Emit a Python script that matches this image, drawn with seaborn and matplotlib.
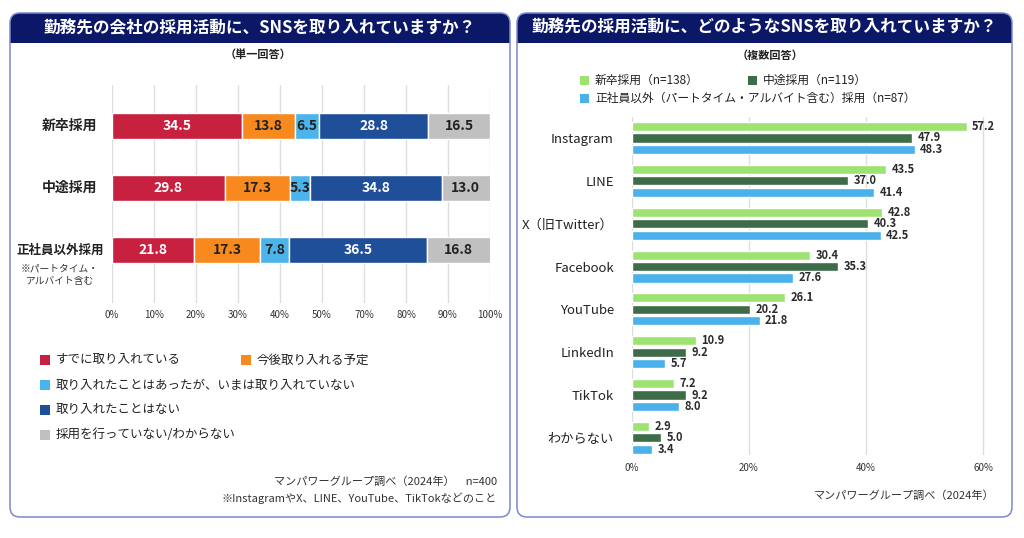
import numpy as np
import pandas as pd
import seaborn as sns
import matplotlib.pyplot as plt
from matplotlib.patches import FancyBboxPatch, Rectangle
from matplotlib.transforms import blended_transform_factory

# left chart: single answer, stacked 100%
stages = ['新卒採用', '中途採用', '正社員以外採用']
answers = ['すでに取り入れている', '今後取り入れる予定',
           '取り入れたことはあったが、いまは取り入れていない',
           '取り入れたことはない', '採用を行っていない/わからない']
already = [34.5, 29.8, 21.8]
planned = [13.8, 17.3, 17.3]
stopped = [6.5, 5.3, 7.8]
never = [28.8, 34.8, 36.5]
unknown = [16.5, 13.0, 16.8]
pct_ticks = ['0%', '10%', '20%', '30%', '40%', '50%', '70%', '80%', '90%', '100%']

# right chart: multiple answers
platforms = ['Instagram', 'LINE', 'X（旧Twitter）', 'Facebook', 'YouTube',
             'LinkedIn', 'TikTok', 'わからない']
groups = ['新卒採用（n=138）', '中途採用（n=119）',
          '正社員以外（パートタイム・アルバイト含む）採用（n=87）']
new_grad = [57.2, 43.5, 42.8, 30.4, 26.1, 10.9, 7.2, 2.9]
mid_career = [47.9, 37.0, 40.3, 35.3, 20.2, 9.2, 9.2, 5.0]
non_regular = [48.3, 41.4, 42.5, 27.6, 21.8, 5.7, 8.0, 3.4]
sns_ticks = ['0%', '20%', '40%', '60%']

left_colors = ['#c8203f', '#f7891e', '#4bb4ea', '#1e4f98', '#c0c0c0']
left_text = ['white', '#222222', '#222222', 'white', '#222222']
right_colors = ['#9ee272', '#3e6b48', '#4ab1ea']
NAVY = '#0b1868'
BORDER = '#7d88c9'

sns.set_style('white')
plt.rcParams['font.family'] = ['Noto Sans CJK JP', 'DejaVu Sans']

W, H = 1024, 538
fig = plt.figure(figsize=(W / 100, H / 100), dpi=100)
fig.patch.set_facecolor('white')

# background axes in pixel units for panels and free text
bg = fig.add_axes([0, 0, 1, 1], zorder=-1)
bg.set_xlim(0, W)
bg.set_ylim(H, 0)
bg.axis('off')


def panel(x0, x1, y0, y1, title):
    bg.add_patch(FancyBboxPatch((x0, y0), x1 - x0, y1 - y0,
                                boxstyle='round,pad=0,rounding_size=10',
                                fc='white', ec='none'))
    bg.add_patch(FancyBboxPatch((x0, y0), x1 - x0, 30,
                                boxstyle='round,pad=0,rounding_size=10',
                                fc=NAVY, ec='none'))
    bg.add_patch(Rectangle((x0, y0 + 15), x1 - x0, 15, fc=NAVY, ec='none'))
    bg.add_patch(FancyBboxPatch((x0, y0), x1 - x0, y1 - y0,
                                boxstyle='round,pad=0,rounding_size=10',
                                fc='none', ec=BORDER, lw=1.1))
    bg.text((x0 + x1) / 2, y0 + 15, title, color='white', fontsize=12,
            fontweight='bold', ha='center', va='center')


def legend_item(x, y, color, label, size=10, fontsize=9):
    bg.add_patch(Rectangle((x, y - size / 2), size, size, fc=color, ec='none'))
    bg.text(x + size + 6, y, label, fontsize=fontsize, color='#222222',
            ha='left', va='center')


panel(10, 510, 13, 517, '勤務先の会社の採用活動に、SNSを取り入れていますか？')
panel(517, 1012, 13, 517, '勤務先の採用活動に、どのようなSNSを取り入れていますか？')

# ---------------- left chart ----------------
ax = fig.add_axes([112 / W, 1 - 303 / H, (490 - 112) / W, (303 - 85) / H])
ax.set_facecolor('none')
series = [already, planned, stopped, never, unknown]
lefts = np.zeros(len(stages))
for vals, col, tcol in zip(series, left_colors, left_text):
    sns.barplot(x=vals, y=stages, left=lefts, color=col, saturation=1,
                width=0.42, edgecolor='white', linewidth=1, ax=ax)
    ax.bar_label(ax.containers[-1], labels=[f'{v:.1f}' for v in vals],
                 label_type='center', color=tcol, fontsize=10, fontweight='bold')
    lefts = lefts + np.array(vals)

ax.set_xlim(0, 100)
ax.set_ylim(2.85, -0.66)
ax.set_xticks(np.linspace(0, 100, 10), pct_ticks)
ax.tick_params(axis='x', length=0, pad=5, labelsize=7, labelcolor='#333333')
ax.set_yticks(range(len(stages)), [''] * len(stages))
ax.tick_params(axis='y', length=0)
ax.grid(axis='x', color='#dddddd', lw=1)
ax.set_axisbelow(True)
ax.set_xlabel('')
ax.set_ylabel('')
for s in ax.spines.values():
    s.set_visible(False)

trans = blended_transform_factory(ax.transAxes, ax.transData)
for i, st in enumerate(stages):
    if i < 2:
        ax.text(-15 / 378, i, st, transform=trans, ha='right', va='center',
                fontsize=10, fontweight='bold', color='#222222')
    else:
        ax.text(-8 / 378, i, st, transform=trans, ha='right', va='center',
                fontsize=9, fontweight='bold', color='#222222')
ax.text(-52 / 378, 2.22, '※パートタイム・\nアルバイト含む', transform=trans,
        ha='center', va='top', fontsize=7, color='#333333', linespacing=1.3)

bg.text(258, 54, '（単一回答）', fontsize=8, fontweight='bold', ha='center',
        va='center', color='#222222')
legend_item(40, 360, left_colors[0], answers[0])
legend_item(241, 360, left_colors[1], answers[1])
for k, yy in zip(range(2, 5), [385, 410, 435]):
    legend_item(40, yy, left_colors[k], answers[k])

bg.text(497, 482, 'マンパワーグループ調べ（2024年）　n=400', fontsize=8,
        ha='right', va='center', color='#333333')
bg.text(497, 498, '※InstagramやX、LINE、YouTube、TikTokなどのこと', fontsize=8,
        ha='right', va='center', color='#333333')

# ---------------- right chart ----------------
df = pd.DataFrame({'platform': platforms, groups[0]: new_grad,
                   groups[1]: mid_career, groups[2]: non_regular})
df = df.melt(id_vars='platform', var_name='group', value_name='value')

ax2 = fig.add_axes([632 / W, 1 - 455 / H, (990 - 632) / W, (455 - 117) / H])
ax2.set_facecolor('none')
sns.barplot(data=df, x='value', y='platform', hue='group', hue_order=groups,
            order=platforms, palette=right_colors, saturation=1, width=0.8,
            gap=0.2, legend=False, ax=ax2)
for cont in ax2.containers:
    ax2.bar_label(cont, fmt='%.1f', padding=4, fontsize=8, fontweight='bold',
                  color='#2b2b2b')

ax2.set_xlim(0, 61.2)
ax2.set_ylim(7.4, -0.49)
ax2.set_xticks([0, 20, 40, 60], sns_ticks)
ax2.tick_params(axis='x', length=0, pad=6, labelsize=7, labelcolor='#333333')
ax2.tick_params(axis='y', length=0, pad=13, labelsize=9.5, labelcolor='#222222')
ax2.grid(axis='x', color='#dddddd', lw=1)
ax2.set_axisbelow(True)
ax2.set_xlabel('')
ax2.set_ylabel('')
for s in ax2.spines.values():
    s.set_visible(False)

bg.text(770, 55, '（複数回答）', fontsize=8, fontweight='bold', ha='center',
        va='center', color='#222222')
legend_item(580, 80, right_colors[0], groups[0], size=9, fontsize=8.5)
legend_item(748, 80, right_colors[1], groups[1], size=9, fontsize=8.5)
legend_item(580, 98, right_colors[2], groups[2], size=9, fontsize=8.5)

bg.text(994, 496, 'マンパワーグループ調べ（2024年）', fontsize=8,
        ha='right', va='center', color='#333333')

fig.savefig('out.png', dpi=100, facecolor='white')
